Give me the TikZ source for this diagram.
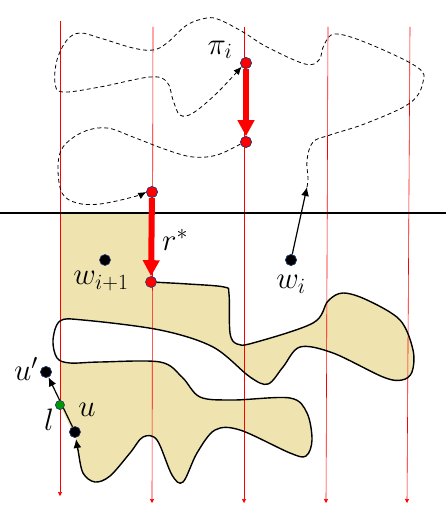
\documentclass[tikz,border=0pt]{standalone}
\usepackage{fix-cm}
\usepackage{tikz}
\usetikzlibrary{arrows.meta}

\definecolor{sand}{RGB}{239,228,176}
\definecolor{rimblue}{RGB}{40,60,120}

\newcommand\blobline{-- plot[smooth, tension=0.55] coordinates {(151,282) (188,284) (224,287) (229,294) (230,333) (237,344) (253,343) (313,323) (328,301) (343,293) (367,300) (400,320) (413,350) (412,372) (402,380) (383,377) (333,353) (300,347) (283,367) (268,384) (250,377) (213,347) (160,330) (83,320) (60,321) (53,340) (57,358) (70,363) (100,362) (160,362) (182,377) (200,397) (233,400) (290,398) (307,413) (312,440) (306,456) (290,453) (240,430) (215,430) (197,453) (183,482) (172,475) (157,440) (143,437) (130,453) (110,476) (95,482) (83,473) (78,450) (76,439)}}

\begin{document}
\begin{tikzpicture}[x=1pt, y=-1pt,
    vline/.style = {red, line width=0.6pt, -{Triangle[width=4pt,length=4pt]}},
    outline/.style = {black, line width=1.4pt},
    trail/.style = {black, line width=0.8pt, dash pattern=on 4pt off 3pt},
    jump/.style = {red, line width=6pt, -{Triangle[width=16pt,length=16pt]}},
    rdot/.style = {draw=rimblue, fill=red, circle, inner sep=0pt, minimum size=11pt, line width=0.6pt},
    bdot/.style = {draw=rimblue, fill=black, circle, inner sep=0pt, minimum size=11pt, line width=0.6pt},
    gdot/.style = {draw=rimblue, fill=green!60!black, circle, inner sep=0pt, minimum size=9pt, line width=0.6pt},
    lab/.style = {font=\fontsize{31}{33}\selectfont, inner sep=0pt}]
    \useasboundingbox (0,0) rectangle (446,526);

    \coordinate (a1) at (307,187);
    \node[rdot](pi)   at (246,63) {};
    \node[rdot](pi2)  at (246,142) {};
    \node[rdot](r0)   at (152,192) {};
    \node[rdot](rs)   at (151,282) {};
    \node[bdot](wi1)  at (105,260) {};
    \node[bdot](wi)   at (291,260) {};
    \node[bdot](up)   at (46,372) {};
    \node[bdot](u)    at (75,432) {};
    \node[gdot](l)    at (60,405) {};

    % shaded region
    \begin{scope}
        \clip (60,0) rectangle (446,526);
        \fill[sand] (60,213) -- (153,213) \blobline -- (l.center) -- cycle;
    \end{scope}

    \foreach \n/\xt/\yt/\xb/\yb in {1/60/21/60/496, 2/153/27/152/503, 3/244/27/244/503, 4/328/27/326/503, 5/410/27/407/503}{
        \coordinate (t\n) at (\xt,\yt);
        \coordinate (b\n) at (\xb,\yb);
        \draw[vline] (t\n) -- (b\n);
    }

    \coordinate (hl) at (0,213);
    \coordinate (hr) at (446,213);
    \draw[black, line width=1.3pt] (hl) -- (hr);

    \draw[trail, -{Latex[length=8pt,width=7pt]}] plot[smooth, tension=0.6] coordinates {(a1) (308,178) (307,160) (313,142) (330,135) (367,123) (410,103) (423,82) (417,67) (367,43) (335,34) (324,45) (319,60) (305,64) (267,47) (243,32) (220,20) (207,18) (187,25) (167,43) (153,50) (133,48) (100,38) (80,33) (67,40) (57,60) (55,83) (63,92) (100,87) (150,77) (167,82) (173,100) (180,115) (193,113) (217,93) (pi.220)};
    \draw[trail, -{Latex[length=8pt,width=7pt]}] plot[smooth, tension=0.6] coordinates {(pi2.200) (217,155) (193,157) (167,150) (133,137) (107,128) (83,132) (63,147) (58,167) (62,193) (77,203) (100,204) (133,197) (r0.west)};

    \draw[outline, -{Latex[length=9pt,width=8pt]}] (rs.center) \blobline;
    \draw[black, line width=1.2pt, -{Latex[length=9pt,width=8pt]}] (wi) -- (a1);
    \draw[black, line width=1.2pt, -{Latex[length=9pt,width=8pt]}] (u) -- (up);

    \draw[jump] (pi) -- (pi2);
    \draw[jump] (r0) -- (rs);
    \node[rdot] at (pi) {};\node[rdot] at (pi2) {};\node[rdot] at (r0) {};\node[rdot] at (rs) {};
    \node[bdot] at (wi1) {};\node[bdot] at (wi) {};\node[bdot] at (up) {};\node[bdot] at (u) {};
    \node[gdot] at (l) {};

    \node[lab](pilab)  at (220,50)  {$\pi_i$};
    \node[lab](rlab)   at (175,240) {$r^*$};
    \node[lab](wi1lab) at (101,281) {$w_{i+1}$};
    \node[lab](wilab)  at (291,284) {$w_i$};
    \node[lab](uplab)  at (26,369)  {$u'$};
    \node[lab](ulab)   at (87,410)  {$u$};
    \node[lab](llab)   at (49,420)  {$l$};
\end{tikzpicture}
\end{document}
